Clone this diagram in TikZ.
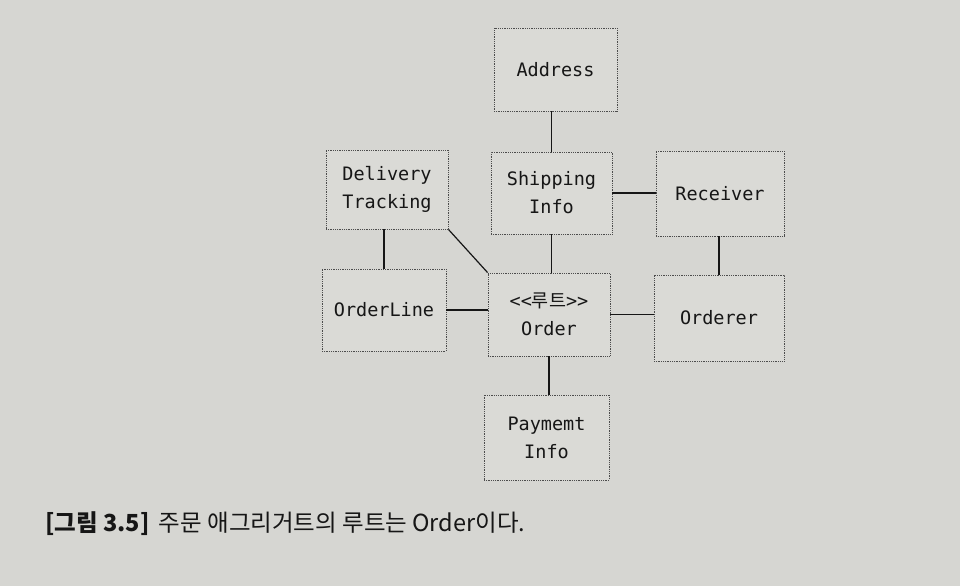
\documentclass[tikz,border=0pt]{standalone}
\usepackage{fontspec}
\setmonofont{DejaVu Sans Mono}
\newfontfamily\kr{Noto Sans CJK KR}
\definecolor{bg}{RGB}{214,214,210}
\definecolor{boxfill}{RGB}{218,218,214}
\definecolor{ink}{RGB}{22,22,22}
\tikzset{
  ent/.style={draw=black!70, densely dotted, line width=0.8pt, fill=boxfill, inner sep=0pt,
    align=center, text=ink, font=\fontsize{18.5}{28}\selectfont\ttfamily},
  link/.style={draw=ink, line width=1.2pt}
}
\begin{document}
\begin{tikzpicture}[x=1pt,y=-1pt]
\fill[bg] (0,0) rectangle (960,586);
\useasboundingbox (0,0) rectangle (960,586);
\node[ent, minimum width=123pt, minimum height=83pt] (addr) at (555.5,69.5) {Address};
\node[ent, minimum width=122pt, minimum height=79pt] (del) at (387,189.5) {Delivery\\Tracking};
\node[ent, minimum width=121pt, minimum height=82pt] (ship) at (551.5,193) {Shipping\\Info};
\node[ent, minimum width=128pt, minimum height=85pt] (rec) at (720,193.5) {Receiver};
\node[ent, minimum width=124pt, minimum height=82pt] (ol) at (384,310) {OrderLine};
\node[ent, minimum width=122pt, minimum height=83pt] (ord) at (549,314.5) {<<{\kr 루트}>>\\Order};
\node[ent, minimum width=130pt, minimum height=86pt] (orr) at (719,318) {Orderer};
\node[ent, minimum width=125pt, minimum height=85pt] (pay) at (546.5,437.5) {Paymemt\\Info};
\draw[link] (ship.north) -- (ship.north |- addr.south);
\draw[link] (ship.east) -- (rec.west |- ship.east);
\draw[link] (del.south -| ol.north) -- (ol.north);
\draw[link] (del.south east) -- (ord.north west);
\draw[link] (ship.south) -- (ship.south |- ord.north);
\draw[link] (rec.south -| orr.north) -- (orr.north);
\draw[link] (ol.east) -- (ord.west |- ol.east);
\draw[link] (ord.east) -- (orr.west |- ord.east);
\draw[link] (ord.south) -- (ord.south |- pay.north);
\node[anchor=base west, text=ink, inner sep=0pt, font=\fontsize{23.5}{26}\selectfont\kr] (cap) at (45,531)
  {\textbf{[그림 3.5]}\hspace{0.4em}주문 애그리거트의 루트는 Order이다.};
\end{tikzpicture}
\end{document}
